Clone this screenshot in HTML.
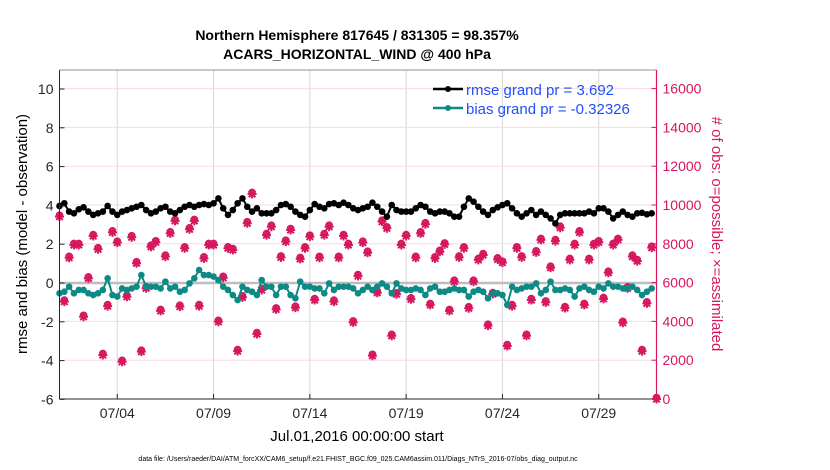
<!DOCTYPE html>
<html><head><meta charset="utf-8"><style>
body{margin:0;background:#fff;}
svg{display:block;font-family:"Liberation Sans",Arial,sans-serif;}
</style></head><body>
<svg id="chart" width="830" height="470" viewBox="0 0 830 470" xmlns="http://www.w3.org/2000/svg">
<g font-weight="bold" font-size="14" text-anchor="middle" fill="#000">
<text x="357" y="40">Northern Hemisphere 817645 / 831305 = 98.357%</text>
<text x="357" y="59">ACARS_HORIZONTAL_WIND @ 400 hPa</text>
</g>
<g id="grid"></g>
<g id="marks"></g>
<g id="axes"></g>
<g>
<line x1="433" y1="89" x2="463" y2="89" stroke="#000" stroke-width="2.5"/><circle cx="448" cy="89" r="3" fill="#000"/>
<text x="466" y="95" font-size="15" fill="#1f4fff">rmse grand pr = 3.692</text>
<line x1="433" y1="108" x2="463" y2="108" stroke="#0d8a86" stroke-width="2.5"/><circle cx="448" cy="108" r="3" fill="#0d8a86"/>
<text x="466" y="114" font-size="15" fill="#1f4fff">bias grand pr = -0.32326</text>
</g>
<text x="357" y="441" font-size="15" text-anchor="middle">Jul.01,2016 00:00:00 start</text>
<text transform="translate(27,234) rotate(-90)" font-size="15" text-anchor="middle">rmse and bias (model - observation)</text>
<text transform="translate(712,234) rotate(90)" font-size="15" text-anchor="middle" fill="#d6175f"># of obs: o=possible; ×=assimilated</text>
<text x="358" y="461" font-size="7" text-anchor="middle">data file: /Users/raeder/DAI/ATM_forcXX/CAM6_setup/f.e21.FHIST_BGC.f09_025.CAM6assim.011/Diags_NTrS_2016-07/obs_diag_output.nc</text>
</svg>
<script>
const xTickDays=[3,8,13,18,23,28];
const xTickLabels=["07/04","07/09","07/14","07/19","07/24","07/29"];
const leftTicks=[-6,-4,-2,0,2,4,6,8,10];
const rightTicks=[0,2000,4000,6000,8000,10000,12000,14000,16000];
const rmse=[3.97,4.11,3.68,3.59,3.80,3.90,3.68,3.51,3.59,3.68,3.97,3.68,3.51,3.68,3.76,3.85,3.93,4.02,3.76,3.59,3.68,3.85,3.93,3.68,3.59,3.76,3.93,4.02,3.93,4.02,4.07,4.02,4.11,4.36,3.85,3.51,3.76,4.11,4.36,3.93,3.68,3.85,
3.59,3.59,3.59,3.76,4.02,4.07,3.93,3.68,3.51,3.42,3.76,4.07,3.93,3.85,4.07,4.11,4.02,4.14,4.02,3.85,3.76,3.85,3.93,4.14,3.93,3.68,3.42,4.02,3.76,3.68,3.68,3.68,3.85,4.02,3.93,3.68,3.59,3.68,
3.68,3.59,3.42,3.42,3.93,4.36,4.19,3.93,3.68,3.51,3.76,3.90,4.02,4.11,3.85,3.59,3.42,3.59,3.76,3.51,3.68,3.51,3.33,3.07,3.51,
3.59,3.59,3.59,3.59,3.59,3.68,3.59,3.85,3.85,3.68,3.33,3.51,3.68,3.51,3.42,3.59,3.62,3.54,3.59,null];
const bias=[-0.53,-0.45,-0.19,-0.53,-0.36,-0.36,-0.53,-0.62,-0.53,-0.36,0.24,-0.62,-0.70,-0.28,-0.36,-0.28,-0.19,0.41,-0.19,-0.19,-0.19,-0.28,0.07,-0.28,-0.19,-0.45,-0.36,-0.02,0.24,0.67,0.41,0.41,0.33,0.15,-0.19,-0.36,-0.62,-0.88,-0.19,-0.36,-0.45,-0.62,
0.15,-0.19,-0.19,-0.62,-0.19,-0.19,-0.62,-0.79,0.07,-0.19,-0.19,-0.28,-0.28,-0.53,-0.02,-0.36,-0.19,-0.19,-0.19,-0.28,-0.53,-0.36,-0.19,-0.36,-0.19,-0.02,-0.19,-0.53,-0.02,-0.28,-0.36,-0.36,-0.28,-0.36,-0.62,-0.28,-0.19,-0.45,
-0.45,-0.36,-0.28,-0.36,-0.36,-0.70,-0.45,-0.36,-0.45,-0.79,-0.53,-0.53,-0.62,-1.13,-0.19,-0.36,-0.28,-0.19,-0.19,-0.02,-0.53,-0.36,0.07,-0.36,-0.36,
-0.28,-0.36,-0.70,-0.28,-0.19,-0.36,-0.45,-0.19,-0.28,-0.02,-0.19,-0.19,-0.28,-0.28,-0.19,-0.36,-0.62,-0.45,-0.28,null];
const obsCount=[9400,5020,7280,7940,7940,4240,6220,8400,7720,2270,4790,8590,8060,1920,5270,8340,7000,2440,5710,7850,8080,4540,7340,8540,9180,4760,7770,8750,9180,4790,7250,7940,7940,3980,6250,7770,7680,2470,5240,9060,10570,3350,
5620,8450,8880,4620,7300,8110,8710,4710,7220,7770,8370,5100,7280,8450,8880,5020,7280,8400,7940,3950,6340,8060,7540,2230,5480,9140,8800,3260,5400,7940,8400,5140,7280,8540,9010,4850,7250,7590,
7970,4540,6050,7300,7770,4680,6050,7170,7420,3780,5410,7200,7030,2730,4790,7770,7300,3260,5100,7560,8200,4980,6770,8140,8830,
4690,7170,7940,8590,4850,7170,7940,8080,5160,6510,7940,8200,3930,5710,7340,7110,2470,4930,7800,0];
const stepDays=0.25;

const NS="http://www.w3.org/2000/svg";
const L=59.5,R=656.5,T=70,B=399;
const xScale=d=>L+(d/31)*(R-L);
const yLeft=v=>283-v*19.4;
const yRight=c=>B-c*0.0194;
function mk(tag,attrs,parent){const e=document.createElementNS(NS,tag);for(const k in attrs)e.setAttribute(k,attrs[k]);parent.appendChild(e);return e;}
const grid=document.getElementById('grid'),marks=document.getElementById('marks'),axes=document.getElementById('axes');
mk('rect',{x:L,y:T,width:R-L,height:B-T,fill:'#fff'},grid);
xTickDays.forEach(d=>{const l=mk('line',{x1:xScale(d),x2:xScale(d),y1:T,y2:B,stroke:'#d8d8d8','stroke-width':1},grid);

});
rightTicks.forEach(c=>{const l=mk('line',{x1:L,x2:R,y1:yRight(c),y2:yRight(c),stroke:'#f6dbe5','stroke-width':1},grid);

});
const zl=mk('line',{x1:L,x2:R,y1:yLeft(0),y2:yLeft(0),stroke:'#bdbdbd','stroke-width':2.5},grid);



obsCount.forEach((c,i)=>{const x=xScale(i*stepDays),y=yRight(c);
const g=mk('g',{stroke:'#d6175f',fill:'none','stroke-width':2},marks);


mk('circle',{cx:x,cy:y-1.5,r:2.8,'stroke-width':2},g);
mk('path',{d:`M${x-4.5} ${y}H${x+4.5}M${x} ${y-4.5}V${y+4.5}M${x-3.3} ${y-3.3}L${x+3.3} ${y+3.3}M${x-3.3} ${y+3.3}L${x+3.3} ${y-3.3}`},g);});

function series(vals,color,name){let d='';let pen=false;
vals.forEach((v,i)=>{if(v===null){pen=false;return;}const x=xScale(i*stepDays),y=yLeft(v);d+=(pen?'L':'M')+x.toFixed(1)+' '+y.toFixed(1);pen=true;});
const p=mk('path',{d:d,stroke:color,'stroke-width':2,fill:'none'},marks);


vals.forEach((v,i)=>{if(v===null)return;const c=mk('circle',{cx:xScale(i*stepDays),cy:yLeft(v),r:3.3,fill:color},marks);

});}
series(bias,'#0d8a86','bias');
series(rmse,'#000','rmse');

mk('line',{x1:L,x2:L,y1:T,y2:B,stroke:'#262626','stroke-width':1},axes);
mk('line',{x1:L,x2:R,y1:B,y2:B,stroke:'#262626','stroke-width':1},axes);
mk('line',{x1:L,x2:R,y1:T,y2:T,stroke:'#262626','stroke-width':0.6},axes);
mk('line',{x1:R,x2:R,y1:T,y2:B,stroke:'#d6175f','stroke-width':1.2},axes);
xTickDays.forEach((d,i)=>{mk('line',{x1:xScale(d),x2:xScale(d),y1:B,y2:B-5,stroke:'#262626'},axes);
const t=mk('text',{x:xScale(d),y:B+19,'font-size':14,'text-anchor':'middle',fill:'#262626'},axes);t.textContent=xTickLabels[i];

});
leftTicks.forEach(v=>{mk('line',{x1:L,x2:L+5,y1:yLeft(v),y2:yLeft(v),stroke:'#262626'},axes);
const t=mk('text',{x:L-6,y:yLeft(v)+5,'font-size':14,'text-anchor':'end',fill:'#262626'},axes);t.textContent=v;

});
rightTicks.forEach(c=>{mk('line',{x1:R,x2:R-5,y1:yRight(c),y2:yRight(c),stroke:'#d6175f'},axes);
const t=mk('text',{x:R+6,y:yRight(c)+5,'font-size':14,fill:'#d6175f'},axes);t.textContent=c;

});
</script>
</body></html>
